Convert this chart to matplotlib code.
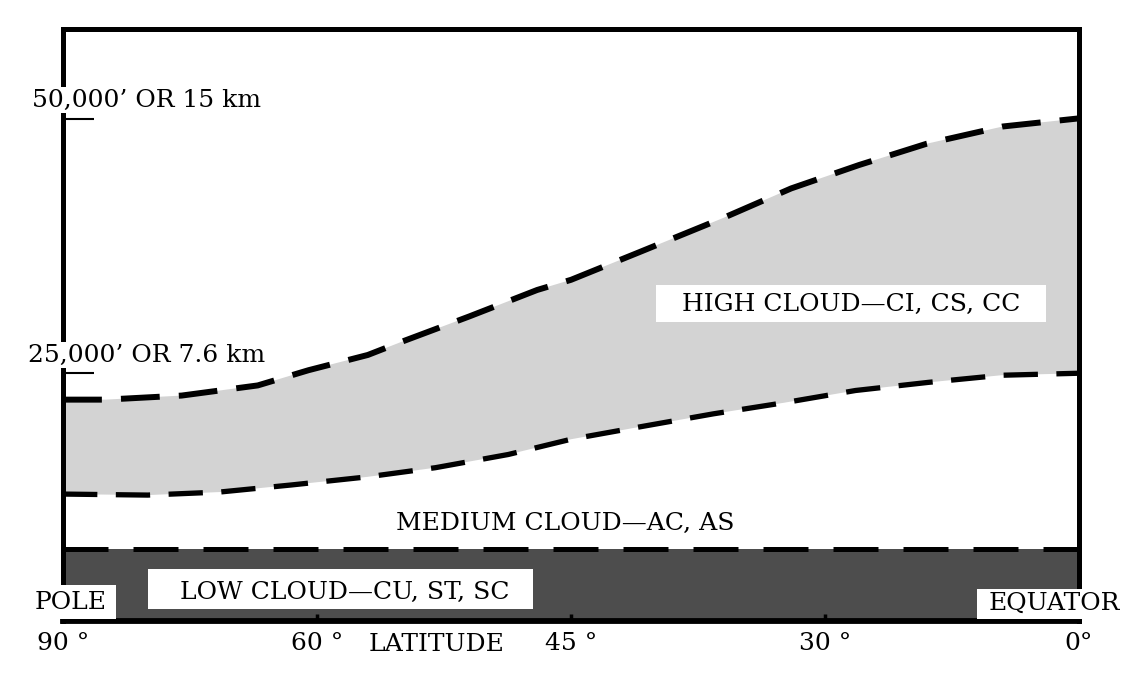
import numpy as np
import matplotlib
matplotlib.use('Agg')
import matplotlib.pyplot as plt
from matplotlib.patches import Rectangle

# latitude (deg) and altitude (thousand feet)
top_lat = [90, 85, 76, 67, 61, 57, 55, 51, 47, 45, 41, 36, 32, 26, 18, 9, 0]
top_alt = [22.4, 22.4, 22.8, 23.8, 25.3, 26.8, 28.1, 30.6, 33.2, 34.2, 36.9, 40.3, 43.2, 45.5, 47.6, 49.3, 50.1]

base_lat = [90, 80, 71.5, 63, 57, 53, 48.7, 45, 41, 36.6, 32.4, 26.4, 17.8, 9.2, 0]
base_alt = [13.1, 13.0, 13.3, 14.0, 14.8, 15.7, 17.0, 18.5, 19.7, 21.0, 22.1, 23.3, 24.1, 24.8, 25.0]

low_top = 7.7

lat_ticks = [90, 60, 45, 30, 0]
lat_labels = ['90 °', '60 °', '45 °', '30 °', '0°']
alt_ticks = [50, 25]
alt_labels = ["50,000\u2019 OR 15 km", "25,000\u2019 OR 7.6 km"]

plt.rcParams['font.family'] = ['DejaVu Serif']
fs = 18

# ticks are equally spaced on the page, not by degrees
tick_pos = [0, 1, 2, 3, 4]
lat_sorted = lat_ticks[::-1]
def fwd(v):
    return np.interp(v, lat_sorted, tick_pos)
def inv(p):
    return np.interp(p, tick_pos, lat_sorted)

fig = plt.figure(figsize=(11.34, 6.84), dpi=100)
ax = fig.add_axes([0.0556, 0.0921, 0.8959, 0.8655])
ax.set_xscale('function', functions=(fwd, inv))
ax.set_xlim(90, 0)
ax.set_ylim(0.6, 58.9)

# low cloud band
ax.axhspan(0, low_top, color='#4d4d4d', lw=0, zorder=1)
ax.axhline(low_top, color='black', lw=3.6, dashes=(9, 5), zorder=2)

# high cloud band
ax.fill(np.r_[top_lat, base_lat[::-1]], np.r_[top_alt, base_alt[::-1]],
        color='#d3d3d3', lw=0, zorder=1)
ax.plot(top_lat, top_alt, color='black', lw=4.3, dashes=(6.5, 3.2), zorder=2)
ax.plot(base_lat, base_alt, color='black', lw=3.8, dashes=(6.5, 3.5), zorder=2)

for s in ax.spines.values():
    s.set_linewidth(3.6)
ax.spines['bottom'].set_linewidth(4.2)

ax.set_xticks(lat_ticks)
ax.set_xticklabels(lat_labels)
ax.xaxis.set_minor_locator(matplotlib.ticker.NullLocator())
ax.tick_params(axis='x', direction='in', length=5, width=2.5, pad=8, labelsize=fs)
ax.set_yticks(alt_ticks)
ax.set_yticklabels([])
ax.tick_params(axis='y', direction='in', length=22, width=1.5)
ax.yaxis.set_minor_locator(matplotlib.ticker.NullLocator())

# white label patches (axes fractions)
patches = [(0.584, 0.505, 0.3835, 0.063),   # high
           (0.0837, 0.0203, 0.379, 0.0675), # low
           (-0.0325, 0.004, 0.0847, 0.057), # pole
           (0.8996, 0.004, 0.15, 0.050)]    # equator
for x0, y0, w, h in patches:
    ax.add_patch(Rectangle((x0, y0), w, h, transform=ax.transAxes,
                           facecolor='white', edgecolor='none', zorder=3,
                           clip_on=False))

box = dict(facecolor='white', edgecolor='none', pad=1)
ax.text(-0.0305, 0.880, alt_labels[0], transform=ax.transAxes, fontsize=fs,
        ha='left', va='center', bbox=box, zorder=4)
ax.text(-0.0344, 0.449, alt_labels[1], transform=ax.transAxes, fontsize=fs,
        ha='left', va='center', bbox=box, zorder=4)

ax.text(0.776, 0.534, 'HIGH CLOUD\u2014CI, CS, CC', transform=ax.transAxes,
        fontsize=fs, ha='center', va='center', zorder=4)
ax.text(0.494, 0.164, 'MEDIUM CLOUD\u2014AC, AS', transform=ax.transAxes,
        fontsize=fs, ha='center', va='center', zorder=4)
ax.text(0.277, 0.049, 'LOW CLOUD\u2014CU, ST, SC', transform=ax.transAxes,
        fontsize=fs, ha='center', va='center', zorder=4)
ax.text(0.007, 0.032, 'POLE', transform=ax.transAxes, fontsize=fs,
        ha='center', va='center', zorder=4)
ax.text(0.976, 0.029, 'EQUATOR', transform=ax.transAxes, fontsize=fs,
        ha='center', va='center', zorder=4)
ax.text(0.368, -0.0405, 'LATITUDE', transform=ax.transAxes, fontsize=fs,
        ha='center', va='center')

fig.savefig('out.png', dpi=100)
